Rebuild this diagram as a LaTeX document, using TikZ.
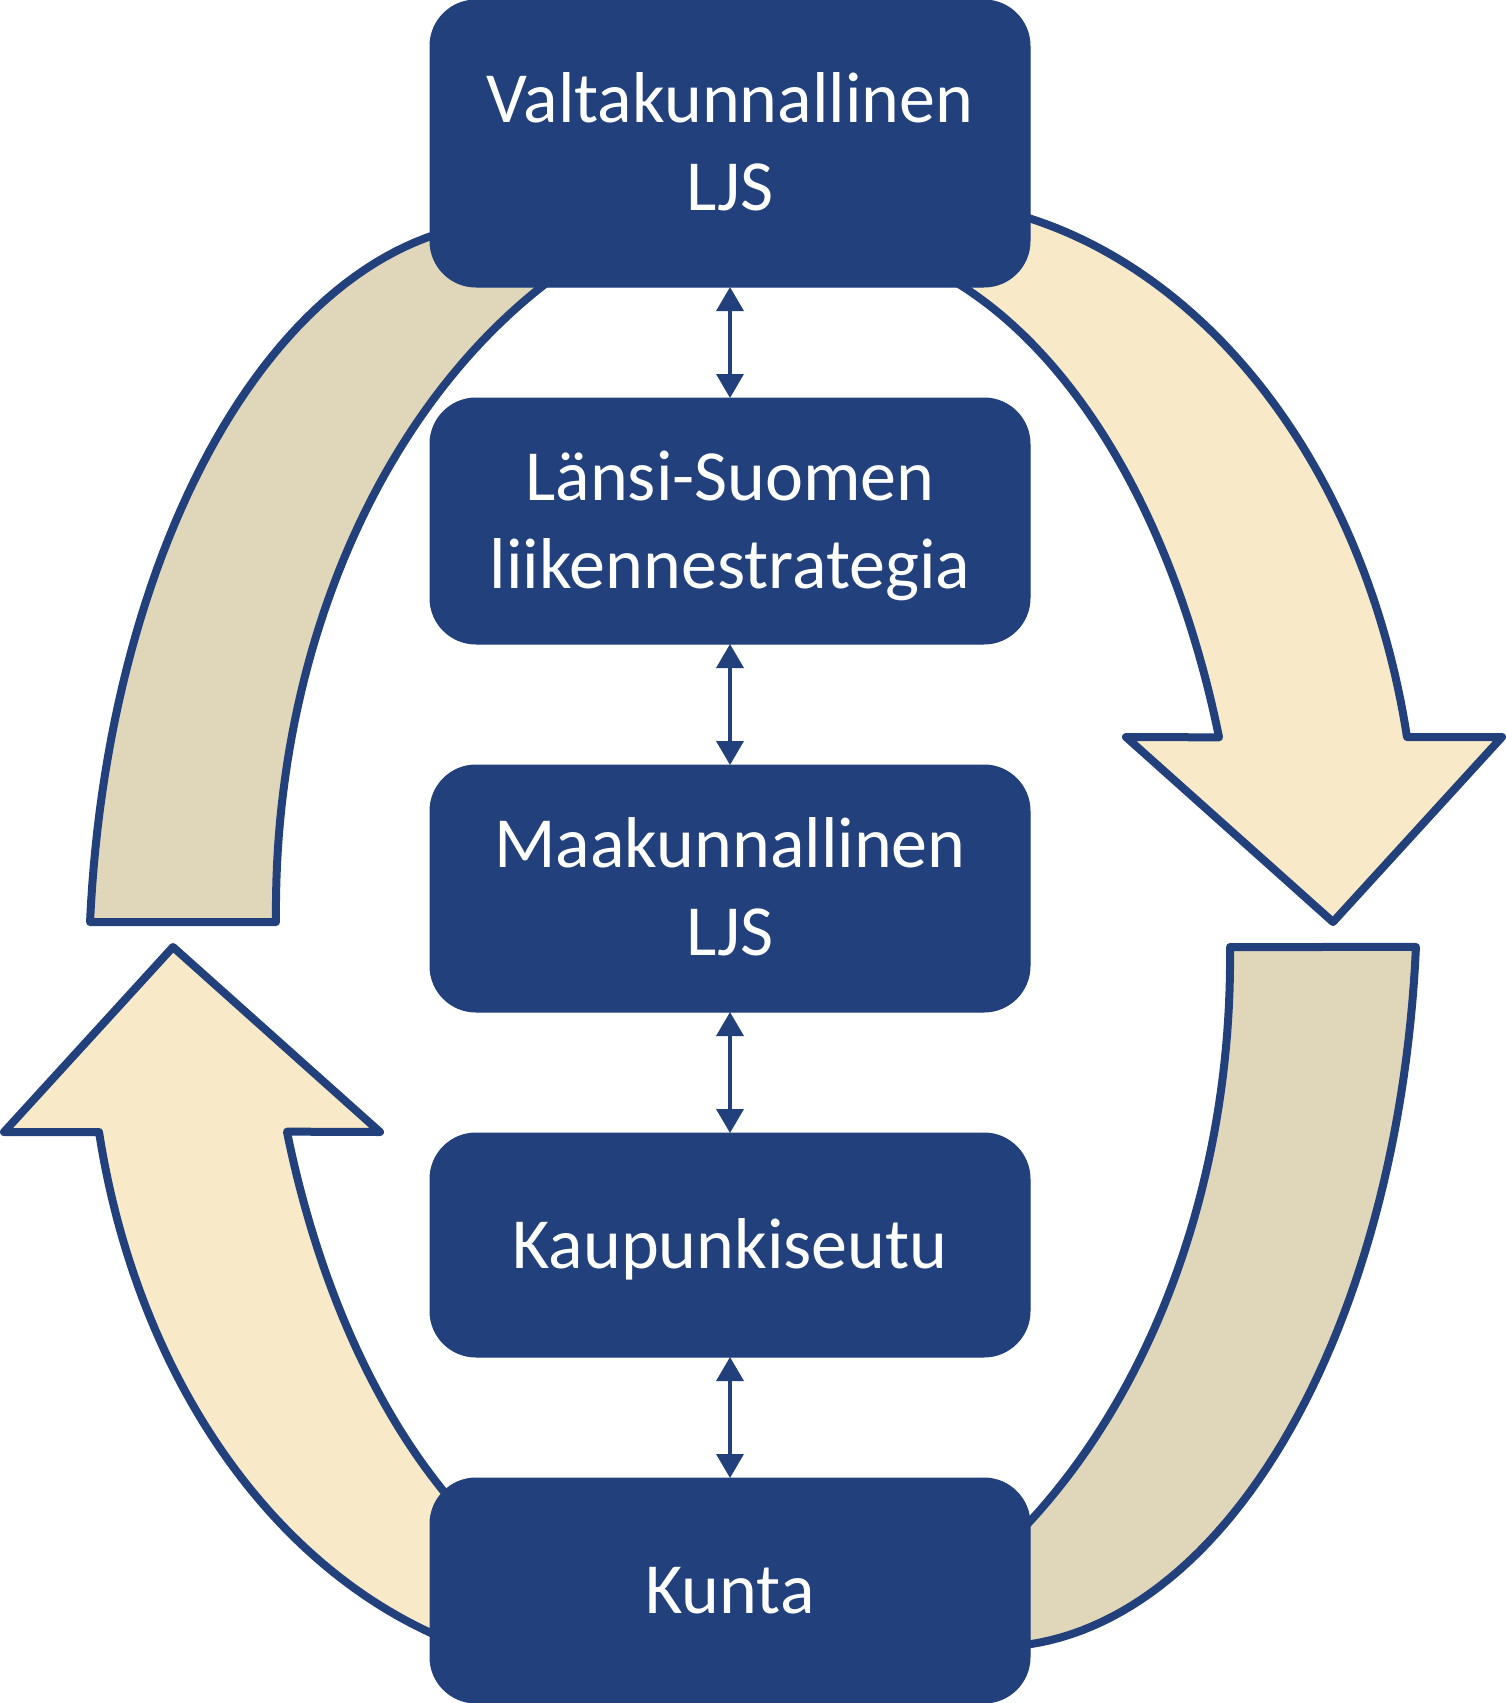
\documentclass[tikz,border=0pt]{standalone}
\usepackage{fontspec}
\setmainfont{Carlito}
\usetikzlibrary{arrows.meta}
\definecolor{boxblue}{RGB}{33,64,124}
\definecolor{lineblue}{RGB}{33,64,124}
\definecolor{creamfill}{RGB}{248,234,200}
\definecolor{tanfill}{RGB}{224,214,186}
\begin{document}
\begin{tikzpicture}[x=1pt,y=-1pt,
  ring/.style={draw=lineblue, line width=8pt, line join=round},
  creamarrow/.style={ring, fill=creamfill},
  tanarc/.style={ring, fill=tanfill},
  box/.style={fill=boxblue, draw=boxblue, line width=1pt, rounded corners=46pt,
              minimum width=600pt, inner sep=0pt, outer sep=0pt},
  lbl/.style={text=white, font=\fontsize{72}{87}\selectfont, anchor=base, inner sep=0pt},
  link/.style={draw=lineblue, line width=3.5pt,
               {Triangle[length=24pt,width=27pt]}-{Triangle[length=24pt,width=27pt]}}
]
\useasboundingbox (0,0) rectangle (1506,1703);

% tan arc (left upper) and its 180-degree copy (right lower)
\def\tanpath{%
  plot[domain=184.7:268, samples=60] ({511.9+423.3*cos(\x)}, {984.5+762.5*sin(\x)})
  -- plot[domain=179.12:247, samples=60] ({813.1+537.2*cos(426.12-\x)}, {910.9+723.4*sin(426.12-\x)})
  -- cycle}
% cream arrow (left lower) and its 180-degree copy (right upper)
\def\arrowpath{%
  plot[domain=95:168.4, samples=70] ({597.3+508.7*cos(\x)}, {996.6+673.4*sin(\x)})
  -- (4,1132) -- (173,947) -- (380,1132)
  -- plot[domain=99:160.6, samples=70] ({693.45+431*cos(259.6-\x)}, {884.2+745*sin(259.6-\x)})
  -- cycle}

\draw[tanarc] \tanpath;
\draw[creamarrow] \arrowpath;
\begin{scope}[rotate around={180:(753,934.5)}]
  \draw[tanarc] \tanpath;
  \draw[creamarrow] \arrowpath;
\end{scope}

% boxes
\node[box, minimum height=287pt] (b1) at (730,143.5) {};
\node[box, minimum height=246pt] (b2) at (730,521) {};
\node[box, minimum height=247pt] (b3) at (730,888.5) {};
\node[box, minimum height=224pt] (b4) at (730,1245) {};
\node[box, minimum height=225pt] (b5) at (730,1590.5) {};

% labels
\node[lbl] (t1a) at (730,122.5) {Valtakunnallinen};
\node[lbl] (t1b) at (730,210.5) {LJS};
\node[lbl] (t2a) at (730,500) {Länsi-Suomen};
\node[lbl] (t2b) at (730,588) {liikennestrategia};
\node[lbl] (t3a) at (730,867.5) {Maakunnallinen};
\node[lbl] (t3b) at (730,955.5) {LJS};
\node[lbl] (t4) at (730,1268) {Kaupunkiseutu};
\node[lbl] (t5) at (730,1613.5) {Kunta};

% double arrows
\draw[link] (b1.south) -- (b2.north);
\draw[link] (b2.south) -- (b3.north);
\draw[link] (b3.south) -- (b4.north);
\draw[link] (b4.south) -- (b5.north);
\end{tikzpicture}
\end{document}
